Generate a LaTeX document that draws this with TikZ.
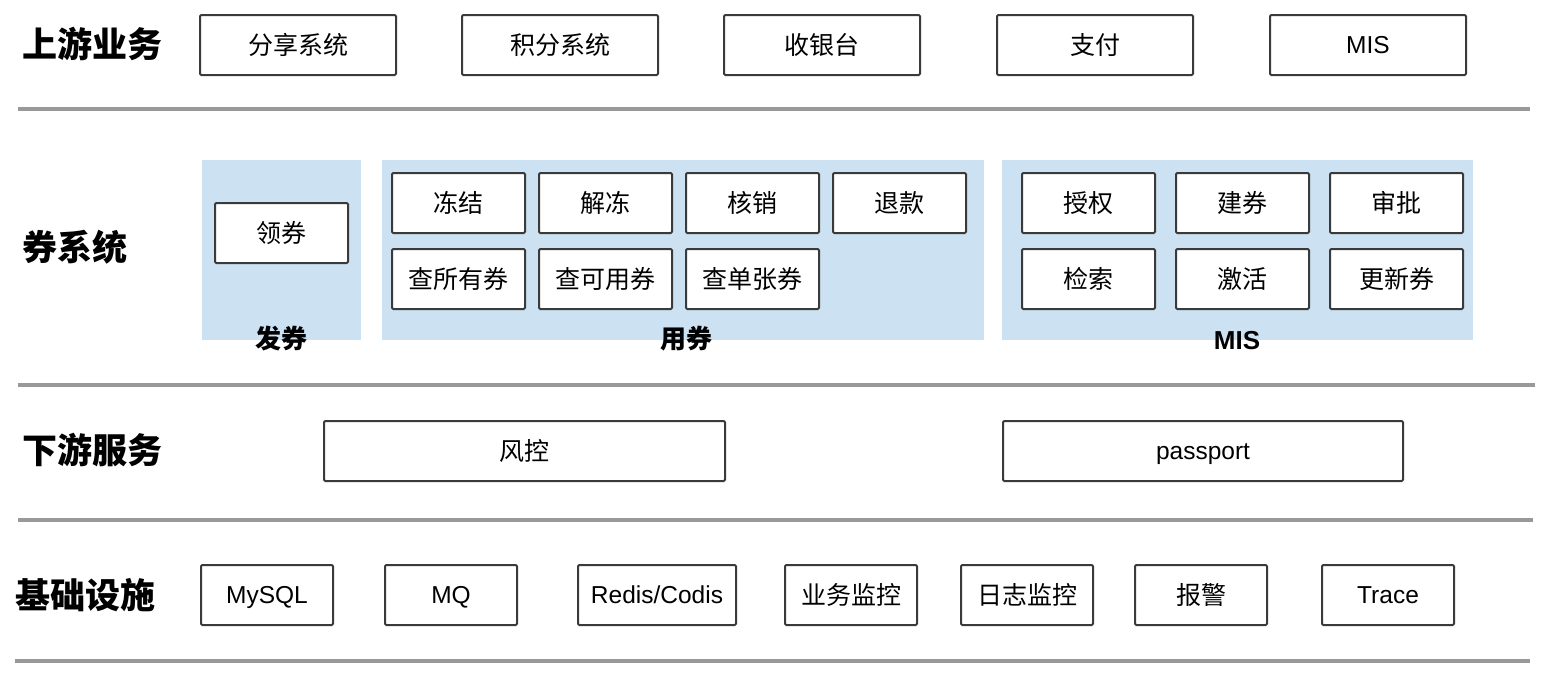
\documentclass[tikz,border=0pt]{standalone}
\usepackage{fontspec}
\setmainfont{Liberation Sans}
\newfontfamily\cjk{Noto Sans CJK SC}
\definecolor{boxc}{HTML}{3A3A3A}
\definecolor{sepc}{HTML}{999999}
\definecolor{bluec}{HTML}{CCE1F2}
\tikzset{
  box/.style={draw=boxc, line width=2pt, fill=white, inner sep=0pt, rounded corners=1.2pt, minimum height=60pt},
  zh/.style={font=\cjk\fontsize{25}{30}\selectfont},
  en/.style={font=\fontsize{24.5}{30}\selectfont, text height=17.6pt, text depth=0pt},
  title/.style={anchor=west, inner sep=0pt, font=\cjk\bfseries\fontsize{35}{40}\selectfont},
  sub/.style={inner sep=0pt, font=\cjk\bfseries\fontsize{26}{30}\selectfont},
  sep/.style={draw=sepc, line width=3.5pt},
  region/.style={fill=bluec, draw=none}
}
\begin{document}
\begin{tikzpicture}[x=1pt,y=-1pt]
\useasboundingbox (0,0) rectangle (1550,678);
% separators
\coordinate (s1a) at (18,109); \coordinate (s1b) at (1530,109);
\coordinate (s2a) at (18,385); \coordinate (s2b) at (1535,385);
\coordinate (s3a) at (18,520); \coordinate (s3b) at (1533,520);
\coordinate (s4a) at (15,661); \coordinate (s4b) at (1530,661);
\draw[sep] (s1a) -- (s1b);
\draw[sep] (s2a) -- (s2b);
\draw[sep] (s3a) -- (s3b);
\draw[sep] (s4a) -- (s4b);
% titles
\node[title] (t1) at (22,44) {上游业务};
\node[title] (t2) at (22,247) {券系统};
\node[title] (t3) at (22,450) {下游服务};
\node[title] (t4) at (15,595) {基础设施};
% upstream
\node[box,zh,minimum width=196pt] (u1) at (298,45) {分享系统};
\node[box,zh,minimum width=196pt] (u2) at (560,45) {积分系统};
\node[box,zh,minimum width=196pt] (u3) at (822,45) {收银台};
\node[box,zh,minimum width=196pt] (u4) at (1095,45) {支付};
\node[box,en,minimum width=196pt] (u5) at (1368,45) {MIS};
% regions
\fill[region] (202,160) rectangle (361,340);
\fill[region] (382,160) rectangle (984,340);
\fill[region] (1002,160) rectangle (1473,340);
\node[sub] (r1) at (281,339) {发券};
\node[sub] (r2) at (686,339) {用券};
\node[inner sep=0pt, font=\bfseries\fontsize{26}{30}\selectfont] (r3) at (1237,341) {MIS};
% coupon boxes
\node[box,zh,minimum width=133pt] (c0) at (281.5,233) {领券};
\node[box,zh,minimum width=133pt] (c1) at (458.5,203) {冻结};
\node[box,zh,minimum width=133pt] (c2) at (605.5,203) {解冻};
\node[box,zh,minimum width=133pt] (c3) at (752.5,203) {核销};
\node[box,zh,minimum width=133pt] (c4) at (899.5,203) {退款};
\node[box,zh,minimum width=133pt] (c5) at (458.5,279) {查所有券};
\node[box,zh,minimum width=133pt] (c6) at (605.5,279) {查可用券};
\node[box,zh,minimum width=133pt] (c7) at (752.5,279) {查单张券};
\node[box,zh,minimum width=133pt] (m1) at (1088.5,203) {授权};
\node[box,zh,minimum width=133pt] (m2) at (1242.5,203) {建券};
\node[box,zh,minimum width=133pt] (m3) at (1396.5,203) {审批};
\node[box,zh,minimum width=133pt] (m4) at (1088.5,279) {检索};
\node[box,zh,minimum width=133pt] (m5) at (1242.5,279) {激活};
\node[box,zh,minimum width=133pt] (m6) at (1396.5,279) {更新券};
% downstream
\node[box,zh,minimum width=401pt] (d1) at (524.5,451) {风控};
\node[box,en,minimum width=400pt] (d2) at (1203,451) {passport};
% infrastructure
\node[box,en,minimum width=132pt] (i1) at (267,595) {MySQL};
\node[box,en,minimum width=132pt] (i2) at (451,595) {MQ};
\node[box,en,minimum width=158pt] (i3) at (657,595) {Redis/Codis};
\node[box,zh,minimum width=132pt] (i4) at (851,595) {业务监控};
\node[box,zh,minimum width=132pt] (i5) at (1027,595) {日志监控};
\node[box,zh,minimum width=132pt] (i6) at (1201,595) {报警};
\node[box,en,minimum width=132pt] (i7) at (1388,595) {Trace};
\end{tikzpicture}
\end{document}
